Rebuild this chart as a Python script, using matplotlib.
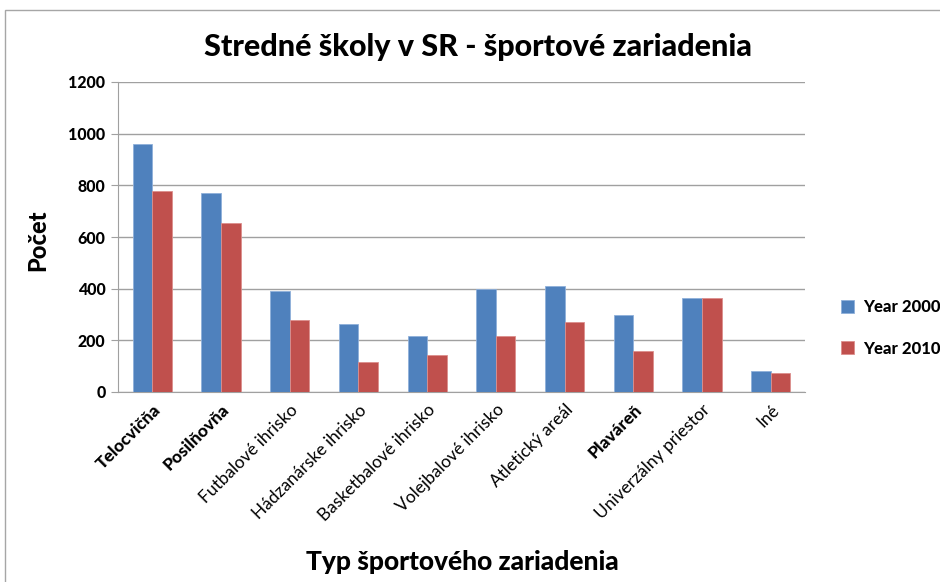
import numpy as np
import matplotlib
matplotlib.use("Agg")
import matplotlib.pyplot as plt
from matplotlib.patches import Rectangle

# ──────────────────────────────────────────────
# Data
# ──────────────────────────────────────────────
categories = [
    "Telocvičňa", "Posilňovňa", "Futbalové ihrisko", "Hádzanárske ihrisko",
    "Basketbalové ihrisko", "Volejbalové ihrisko", "Atletický areál",
    "Plaváreň", "Univerzálny priestor", "Iné",
]
bold_labels = {"Telocvičňa", "Posilňovňa", "Plaváreň"}
year_2000 = [961, 772, 392, 263, 215, 400, 409, 298, 363, 81]
year_2010 = [777, 653, 278, 117, 143, 215, 272, 160, 363, 74]
series_names = ["Year 2000", "Year 2010"]
y_ticks = [0, 200, 400, 600, 800, 1000, 1200]

BLUE = "#4F81BD"
RED = "#C0504D"
FONT = "Lato"
HEAVY = "black"

fig = plt.figure(figsize=(9.4, 5.82), dpi=100)
ax = fig.add_axes([118 / 940, 1 - 392 / 582, (805 - 118) / 940, (392 - 82) / 582])

# outer chart frame (cropped on right/bottom like the reference)
fig.patches.append(Rectangle((5 / 940, -0.1), 1.1, 1 - 10 / 582 + 0.1,
                             transform=fig.transFigure, fill=False,
                             edgecolor="#A6A6A6", linewidth=1.0))

x = np.arange(len(categories)) + 0.5
w = 1 / 3.5
ax.bar(x - w / 2, year_2000, width=w, color=BLUE, edgecolor="#8FB0DA",
       linewidth=0.6, label=series_names[0], zorder=3)
ax.bar(x + w / 2, year_2010, width=w, color=RED, edgecolor="#DC8F8D",
       linewidth=0.6, label=series_names[1], zorder=3)

ax.set_xlim(0, len(categories))
ax.set_ylim(0, 1200)
ax.set_yticks(y_ticks)
ax.set_yticklabels([str(v) for v in y_ticks], fontfamily=FONT,
                   fontweight=HEAVY, fontsize=11.5)
ax.yaxis.grid(True, color="#A0A0A0", linewidth=1.0, zorder=0)
ax.set_axisbelow(True)

ax.set_xticks(x)
ax.set_xticklabels(categories, rotation=45, ha="right", rotation_mode="anchor",
                   fontfamily=FONT, fontsize=12.5)
for lbl in ax.get_xticklabels():
    if lbl.get_text() in bold_labels:
        lbl.set_fontweight(HEAVY)
ax.tick_params(axis="x", length=0, pad=7)
ax.tick_params(axis="y", length=5, color="#A0A0A0", pad=4)

for side in ["top", "right"]:
    ax.spines[side].set_visible(False)
ax.spines["left"].set_color("#A0A0A0")
ax.spines["bottom"].set_color("#A0A0A0")

fig.text(478 / 940, 1 - 47 / 582, "Stredné školy v SR - športové zariadenia",
         ha="center", va="center", fontfamily=FONT, fontweight=HEAVY, fontsize=22)
fig.text(38 / 940, 1 - 240 / 582, "Počet", rotation=90, ha="center",
         va="center", fontfamily=FONT, fontweight=HEAVY, fontsize=17)
fig.text(462 / 940, 1 - 562 / 582, "Typ športového zariadenia", ha="center",
         va="center", fontfamily=FONT, fontweight=HEAVY, fontsize=19)

ax.legend(loc="center left", bbox_to_anchor=(826 / 940, 1 - 328 / 582),
          bbox_transform=fig.transFigure, frameon=False,
          prop={"family": FONT, "weight": HEAVY, "size": 12},
          handlelength=0.8, handleheight=0.8, handletextpad=0.5,
          labelspacing=1.5)

fig.savefig("out.png", dpi=100)
